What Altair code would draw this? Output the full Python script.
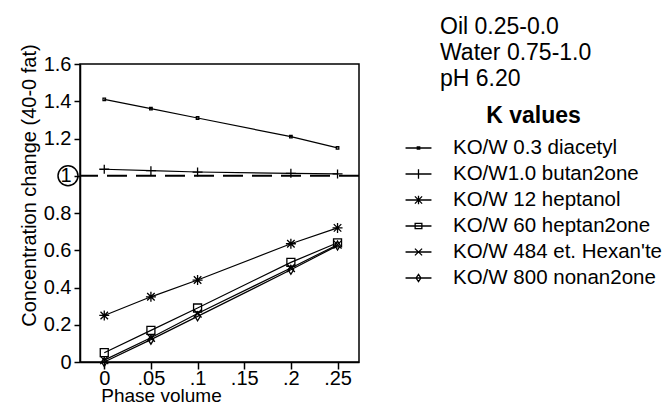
import altair as alt
import pandas as pd

# ---- data ----
phase = [0, 0.05, 0.1, 0.2, 0.25]
series_names = [
    "KO/W 0.3 diacetyl",
    "KO/W1.0 butan2one",
    "KO/W 12 heptanol",
    "KO/W 60 heptan2one",
    "KO/W 484 et. Hexan'te",
    "KO/W 800 nonan2one",
]
diacetyl = [1.41, 1.36, 1.31, 1.21, 1.15]
butan2one = [1.035, 1.027, 1.02, 1.013, 1.01]
heptanol = [0.25, 0.35, 0.44, 0.635, 0.72]
heptan2one = [0.05, 0.17, 0.29, 0.535, 0.64]
hexanoate = [0.01, 0.13, 0.26, 0.505, 0.63]
nonan2one = [0.0, 0.12, 0.245, 0.495, 0.625]
series_values = [diacetyl, butan2one, heptanol, heptan2one, hexanoate, nonan2one]

x_ticks = [0, 0.05, 0.1, 0.15, 0.2, 0.25]
y_ticks = [0, 0.2, 0.4, 0.6, 0.8, 1, 1.2, 1.4, 1.6]
reference_level = [1]
notes = ["Oil 0.25-0.0", "Water 0.75-1.0", "pH 6.20"]
legend_title = "K values"
x_title = "Phase volume"
y_title = "Concentration change (40-0 fat)"

rows = []
for name, vals in zip(series_names, series_values):
    for p, v in zip(phase, vals):
        rows.append({"series": name, "phase": p, "value": v})
df = pd.DataFrame(rows)
ref_df = pd.DataFrame({"phase": [0], "value": reference_level})
notes_df = pd.DataFrame({"note": ["\n".join(notes)]})

# marker shapes (plot) and legend symbols (line + marker)
plot_shapes = [
    "M-0.25,-0.25H0.25V0.25H-0.25Z",
    "M-1,0H1M0,-0.9V0.9",
    "M-1,0H1M0,-1V1M-0.75,-0.75L0.75,0.75M-0.75,0.75L0.75,-0.75",
    "M-0.8,-0.8H0.8V0.8H-0.8Z",
    "M-0.8,-0.8L0.8,0.8M-0.8,0.8L0.8,-0.8",
    "M0,-0.9L0.55,0L0,0.9L-0.55,0Z",
]
legend_shapes = [
    "M-1.08,0H1.08M-0.1,-0.1H0.1V0.1H-0.1Z",
    "M-1.08,0H1.08M0,-0.4V0.4",
    "M-1.08,0H1.08M0,-0.35V0.35M-0.3,-0.3L0.3,0.3M-0.3,0.3L0.3,-0.3",
    "M-1.08,0H1.08M-0.28,-0.22H0.28V0.22H-0.28Z",
    "M-1.08,0H1.08M-0.3,-0.28L0.3,0.28M-0.3,0.28L0.3,-0.28",
    "M-1.08,0H1.08M0,-0.3L0.2,0L0,0.3L-0.2,0Z",
]

FONT = "Liberation Sans, Arial, sans-serif"
NARROW = "Liberation Sans Narrow, Liberation Sans, Arial, sans-serif"

x_scale = alt.Scale(domain=[-0.026, 0.273], nice=False, zero=False)
y_scale = alt.Scale(domain=[0, 1.6], nice=False)
x_axis = alt.Axis(
    values=x_ticks,
    labelExpr="replace(format(datum.value, '~g'), '0.', '.')",
    labelOverlap=False,
    title=x_title,
    titleX=81,
    titleY=39,
    titleFontSize=19,
    titleAlign="center",
    titleBaseline="alphabetic",
    tickSize=7,
    labelPadding=-1,
)
y_axis = alt.Axis(
    values=y_ticks,
    labelExpr="format(datum.value, '~g')",
    labelOverlap=False,
    title=y_title,
    titleX=-45,
    titleY=121,
    titleAngle=270,
    titleAlign="center",
    titleBaseline="alphabetic",
    tickSize=6,
    labelPadding=3,
)


def xe():
    return alt.X("phase:Q", scale=x_scale, axis=x_axis)


def ye():
    return alt.Y("value:Q", scale=y_scale, axis=y_axis)


lines = alt.Chart(df).mark_line(color="black", strokeWidth=1.2).encode(
    x=xe(), y=ye(), detail="series:N"
)

points = alt.Chart(df).mark_point(
    filled=False, color="black", strokeWidth=1.3, size=100, opacity=1
).encode(
    x=xe(),
    y=ye(),
    shape=alt.Shape(
        "series:N",
        scale=alt.Scale(domain=series_names, range=plot_shapes),
        legend=None,
    ),
)

legend_layer = alt.Chart(df).mark_point(
    filled=False, color="black", strokeWidth=1.3, size=576, opacity=0
).encode(
    x=xe(),
    y=ye(),
    shape=alt.Shape(
        "series:N",
        scale=alt.Scale(domain=series_names, range=legend_shapes),
        legend=alt.Legend(
            title=legend_title,
            orient="none",
            legendX=325.5,
            legendY=41,
            symbolSize=576,
            symbolOpacity=1,
            symbolStrokeColor="black",
            symbolStrokeWidth=1.3,
            symbolFillColor="transparent",
            labelOffset=21.5,
            labelFont=FONT,
            labelFontSize=20.5,
            labelColor="black",
            labelLimit=400,
            rowPadding=2,
            titleFont=FONT,
            titleFontSize=23,
            titleFontWeight="bold",
            titleColor="black",
            titleAnchor="middle",
            titleAlign="center",
            titlePadding=7,
            padding=0,
        ),
    ),
)

rule = alt.Chart(ref_df).mark_rule(
    color="black", strokeWidth=2, strokeDash=[20, 9]
).encode(y=ye())

circle = alt.Chart(ref_df).mark_point(
    shape="circle", filled=False, color="black", strokeWidth=1.5, size=400, opacity=1
).encode(y=ye(), x=alt.value(-12))

note_text = alt.Chart(notes_df).mark_text(
    align="left",
    baseline="alphabetic",
    lineBreak="\n",
    font=FONT,
    fontSize=23,
    lineHeight=26,
    color="black",
).encode(text="note:N", x=alt.value(360), y=alt.value(-30))

chart = (
    alt.layer(lines, points, legend_layer, rule, circle, note_text)
    .resolve_scale(shape="independent")
    .properties(
        width=279,
        height=298,
        background="white",
        autosize=alt.AutoSizeParams(type="none"),
        padding={"left": 72, "top": 56, "right": 305, "bottom": 43},
    )
    .configure_view(stroke="black", strokeWidth=1.5)
    .configure_axis(
        grid=False,
        domainColor="black",
        domainWidth=1.5,
        tickColor="black",
        tickWidth=1.5,
        labelColor="black",
        labelFont=NARROW,
        labelFontSize=20,
        titleFont=FONT,
        titleFontSize=20,
        titleFontWeight="normal",
        titleColor="black",
    )
)

chart.save("out.html", embed_options={"renderer": "svg", "actions": False})
